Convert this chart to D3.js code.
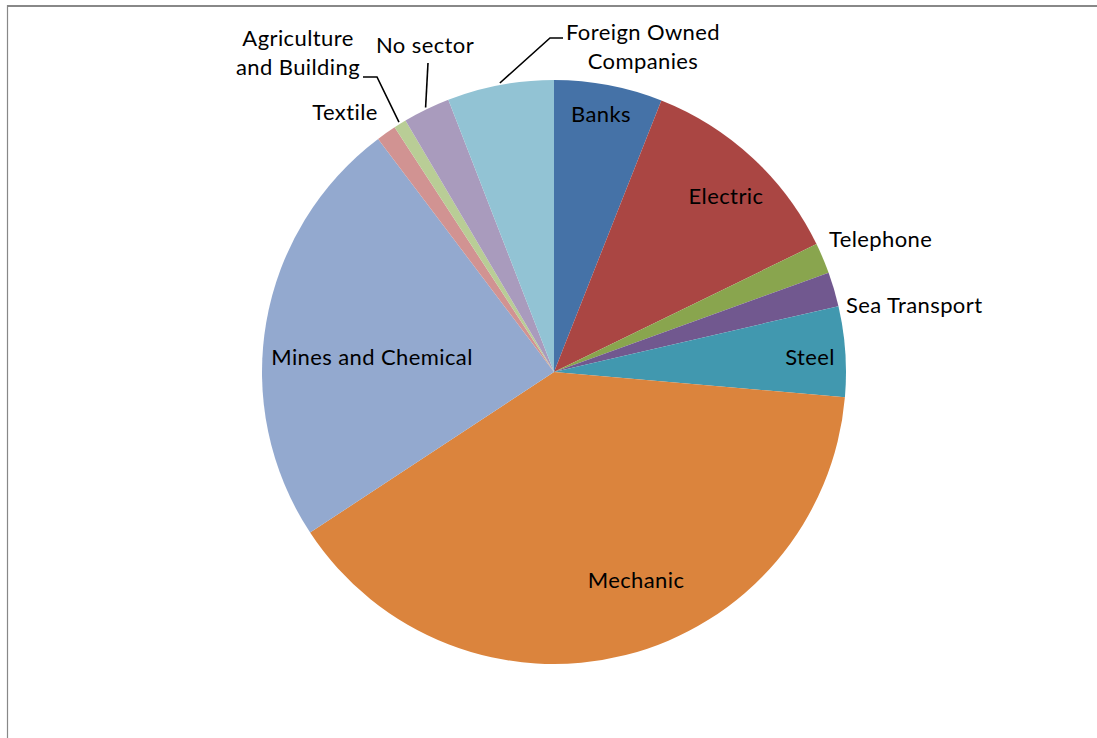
<!DOCTYPE html>
<html>
<head>
<meta charset="utf-8">
<script src="https://cdn.jsdelivr.net/npm/d3@7"></script>
<style>
  html, body { margin: 0; padding: 0; background: #fff; }
  svg { display: block; }
  text { font-family: Lato, "Open Sans", sans-serif; fill: #000; letter-spacing: 0.4px; }
</style>
</head>
<body>
<svg id="chart" width="1097" height="738"></svg>
<script>
// Share of companies by sector (%), clockwise from 12 o'clock
const sectors = ["Banks", "Electric", "Telephone", "Sea Transport", "Steel", "Mechanic",
  "Mines and Chemical", "Textile", "Agriculture and Building", "No sector", "Foreign Owned Companies"];
const shares = [6.0, 11.8, 1.7, 1.9, 5.0, 39.4, 24.0, 1.1, 0.7, 2.6, 5.9];
const colors = ["#4572A7", "#AA4643", "#89A54E", "#71588F", "#4198AF", "#DB843D",
  "#93A9CF", "#D19392", "#B9CD96", "#A99BBD", "#92C3D4"];

const W = 1097, H = 738;
const cx = 554, cy = 372, R = 292;

const svg = d3.select("#chart");

// Chart frame (top and left edges)
svg.append("line").attr("x1", 7).attr("y1", 6).attr("x2", W).attr("y2", 6)
  .attr("stroke", "#888").attr("stroke-width", 2.2);
svg.append("line").attr("x1", 7.5).attr("y1", 5).attr("x2", 7.5).attr("y2", H)
  .attr("stroke", "#888").attr("stroke-width", 1.2);

const data = sectors.map((s, i) => ({ sector: s, value: shares[i], color: colors[i] }));

const pie = d3.pie().value(d => d.value).sort(null);
const arc = d3.arc().innerRadius(0).outerRadius(R);
const arcs = pie(data);

const g = svg.append("g").attr("transform", `translate(${cx},${cy})`);
g.selectAll("path.slice").data(arcs).join("path")
  .attr("class", "slice")
  .attr("d", arc)
  .attr("fill", d => d.data.color);

// Label placement in page space, with text lines
const labelLayout = {
  "Banks": { x: 601, y: 114, anchor: "middle", lines: ["Banks"] },
  "Electric": { x: 726, y: 196, anchor: "middle", lines: ["Electric"] },
  "Telephone": { x: 829, y: 239, anchor: "start", lines: ["Telephone"] },
  "Sea Transport": { x: 846, y: 305, anchor: "start", lines: ["Sea Transport"] },
  "Steel": { x: 810, y: 357, anchor: "middle", lines: ["Steel"] },
  "Mechanic": { x: 636, y: 580, anchor: "middle", lines: ["Mechanic"] },
  "Mines and Chemical": { x: 372, y: 357, anchor: "middle", lines: ["Mines and Chemical"] },
  "Textile": { x: 345, y: 112, anchor: "middle", lines: ["Textile"] },
  "Agriculture and Building": { x: 298, y: 38, anchor: "middle", lines: ["Agriculture", "and Building"] },
  "No sector": { x: 425, y: 45, anchor: "middle", lines: ["No sector"] },
  "Foreign Owned Companies": { x: 643, y: 32, anchor: "middle", lines: ["Foreign Owned", "Companies"] }
};

// Leader lines for labels outside the pie: elbow points, then to the slice edge
const leaders = {
  "Agriculture and Building": { elbow: [[363, 77], [377, 77]] },
  "No sector": { elbow: [[428, 63]] },
  "Foreign Owned Companies": { elbow: [[563, 38], [550, 38]] }
};

arcs.forEach(a => {
  const L = leaders[a.data.sector];
  if (!L) return;
  const mid = (a.startAngle + a.endAngle) / 2;
  const end = [cx + Math.sin(mid) * (R + 2), cy - Math.cos(mid) * (R + 2)];
  const pts = L.elbow.concat([end]);
  svg.append("path")
    .attr("d", d3.line()(pts))
    .attr("fill", "none")
    .attr("stroke", "#000")
    .attr("stroke-width", 1.6);
});

const fontSize = 22, lineH = 29;
arcs.forEach(a => {
  const L = labelLayout[a.data.sector];
  const t = svg.append("text")
    .attr("x", L.x).attr("y", L.y)
    .attr("text-anchor", L.anchor)
    .attr("font-size", fontSize);
  L.lines.forEach((ln, i) => {
    t.append("tspan").attr("x", L.x)
      .attr("y", L.y + i * lineH)
      .attr("dy", "0.35em")
      .text(ln);
  });
});
</script>
</body>
</html>
